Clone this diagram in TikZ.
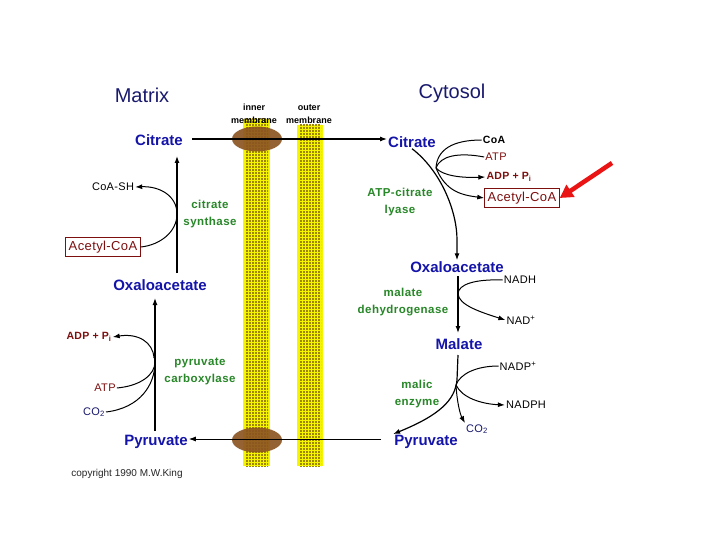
\documentclass[tikz,border=0pt]{standalone}
\usepackage{fontspec}
\setmainfont{Liberation Sans}
\usetikzlibrary{arrows.meta,patterns.meta}
\definecolor{navy}{RGB}{25,25,110}
\definecolor{mblue}{RGB}{20,20,170}
\definecolor{dred}{RGB}{125,15,15}
\definecolor{egreen}{RGB}{40,135,40}
\definecolor{memyellow}{RGB}{245,245,0}
\definecolor{memolive}{RGB}{160,135,0}
\definecolor{brownov}{RGB}{140,85,35}
\definecolor{hotred}{RGB}{235,20,20}
\tikzdeclarepattern{
  name=memdots,
  type=uncolored,
  bottom left={(-.1pt,-.1pt)},
  top right={(3.1pt,3.1pt)},
  tile size={(3pt,3pt)},
  code={\fill (0pt,0pt) rectangle (1.6pt,1.6pt);}
}
\tikzset{
  met/.style={font=\bfseries\fontsize{15}{17}\selectfont, text=mblue, inner sep=1pt},
  enz/.style={font=\bfseries\fontsize{11.5}{17}\selectfont\addfontfeature{LetterSpace=4}, text=egreen, align=center, inner sep=1pt},
  sm/.style={font=\fontsize{11}{12}\selectfont\addfontfeature{LetterSpace=3}, inner sep=1pt},
  smb/.style={font=\bfseries\fontsize{10.5}{12}\selectfont\addfontfeature{LetterSpace=3}, inner sep=1pt},
  accbox/.style={draw=dred, text=dred, line width=1pt, inner sep=3pt, font=\fontsize{13}{14}\selectfont\addfontfeature{LetterSpace=3}},
  title/.style={font=\fontsize{20}{22}\selectfont, text=navy},
  memlabel/.style={font=\bfseries\fontsize{9}{13}\selectfont, align=center, inner sep=0pt},
  rxn/.style={line width=1.2pt, -{Latex[length=7pt,width=5pt]}},
  crv/.style={line width=1pt},
  crva/.style={line width=1pt, -{Latex[length=7pt,width=5pt]}},
  membrane/.style={fill=memyellow},
  memcore/.style={pattern={memdots}, pattern color=memolive},
  carrier/.style={fill=brownov, opacity=0.92},
}
\begin{document}
\begin{tikzpicture}[x=1pt,y=-1pt]
\useasboundingbox[fill=white] (0,0) rectangle (720,540);

% membranes
\fill[membrane] (243,119) rectangle (270,466);
\fill[memcore] (245,119) rectangle (268,466);
\fill[membrane] (297,125) rectangle (323,466);
\fill[memcore] (299,125) rectangle (321,466);
\node[memlabel] (inner) at (254,114) {inner\\membrane};
\node[memlabel] (outer) at (309,114) {outer\\membrane};

% carriers
\fill[carrier] (257,139) ellipse (25 and 12.5);
\fill[carrier] (257,440) ellipse (25 and 12.5);

% titles
\node[title] (matrix) at (142,95) {Matrix};
\node[title] (cytosol) at (452,93) {Cytosol};

% matrix side
\node[met] (cit1) at (159,140) {Citrate};
\node[met] (oaa1) at (160,285) {Oxaloacetate};
\node[met] (pyr1) at (156,442) {Pyruvate};
\node[sm] (coash) at (113,187) {CoA-SH};
\node[accbox] (acoa1) at (103,247) {Acetyl-CoA};
\node[enz] (cs) at (210,214) {citrate\\synthase};
\node[smb, text=dred] (adp1) at (89,337) {ADP + P\textsubscript{i}};
\node[sm, text=dred] (atp1) at (105,388) {ATP};
\node[sm, text=navy] (co2a) at (94,412) {CO\textsubscript{2}};
\node[enz] (pc) at (200,371) {pyruvate\\carboxylase};
\node[font=\fontsize{10}{12}\selectfont, text=black!85] (copy) at (127,474) {copyright 1990 M.W.King};

% cytosol side
\node[met] (cit2) at (412,142) {Citrate};
\node[smb] (coa) at (494,140) {CoA};
\node[sm, text=dred] (atp2) at (496,157) {ATP};
\node[smb, text=dred] (adp2) at (509,177) {ADP + P\textsubscript{i}};
\node[accbox] (acoa2) at (522,198) {Acetyl-CoA};
\node[enz] (acl) at (400,202) {ATP-citrate\\lyase};
\node[met] (oaa2) at (457,267) {Oxaloacetate};
\node[sm] (nadh) at (520,280) {NADH};
\node[sm] (nad) at (521,320) {NAD\textsuperscript{+}};
\node[enz] (mdh) at (403,302) {malate\\dehydrogenase};
\node[met] (mal) at (459,344) {Malate};
\node[sm] (nadp) at (518,366) {NADP\textsuperscript{+}};
\node[sm] (nadph) at (526,405) {NADPH};
\node[sm, text=navy] (co2b) at (477,429) {CO\textsubscript{2}};
\node[enz] (me) at (417,394) {malic\\enzyme};
\node[met] (pyr2) at (426,442) {Pyruvate};

% transport lines
\coordinate (citstart) at (192,139);
\coordinate (pyrstart) at (381,439);
\draw[rxn] (citstart) -- (cit2.west |- citstart);
\draw[rxn, line width=0.8pt] (pyrstart) -- (pyr1.east |- pyrstart);

% matrix reactions
\draw[rxn] (177,273) -- (177,156);
\draw[crva] (acoa1.east) .. controls (160,245) and (177,232) .. (177,214)
            .. controls (177,196) and (160,186) .. (coash.east);
\draw[rxn] (155,431) -- (155,298);
\coordinate (pcj) at (155,362);
\draw[crv] (atp1.east) .. controls (140,386) and (155,375) .. (pcj);
\draw[crv] (co2a.east) .. controls (140,408) and (155,385) .. (pcj);
\draw[crva] (154,358) .. controls (153,342) and (138,333) .. (adp1.east);

% cytosol reactions
\coordinate (aclj) at (436,168);
\draw[rxn] (cit2.south) .. controls (440,170) and (457,210) .. (457,240) -- (oaa2.north);
\draw[crv] (coa.west) .. controls (452,140) and (437,150) .. (aclj);
\draw[crv] (atp2.west) .. controls (458,152) and (440,156) .. (aclj);
\draw[crva] (aclj) .. controls (443,176) and (462,178) .. (adp2.west);
\draw[crva] (aclj) .. controls (446,192) and (462,195) .. (acoa2.west);

\draw[rxn] (458,276) -- (458,333);
\coordinate (mdhj) at (458,294);
\draw[crv] (nadh.west) .. controls (476,279) and (458,284) .. (mdhj);
\draw[crva] (mdhj) .. controls (459,305) and (480,312) .. (nad.west);

\coordinate (mej) at (456,385);
\draw[rxn] (458,355) -- (457,380) .. controls (455,400) and (440,415) .. (pyr2.north west);
\draw[crv] (nadp.west) .. controls (476,366) and (460,374) .. (mej);
\draw[crva] (mej) .. controls (462,398) and (482,404) .. (nadph.west);
\draw[crva] (mej) .. controls (457,402) and (460,414) .. (co2b.north west);

% highlight arrow
\coordinate (redtail) at (612,163);
\draw[line width=4.5pt, hotred, -{Triangle[length=13pt,width=14pt]}] (redtail) -- (acoa2.east);
\end{tikzpicture}
\end{document}
